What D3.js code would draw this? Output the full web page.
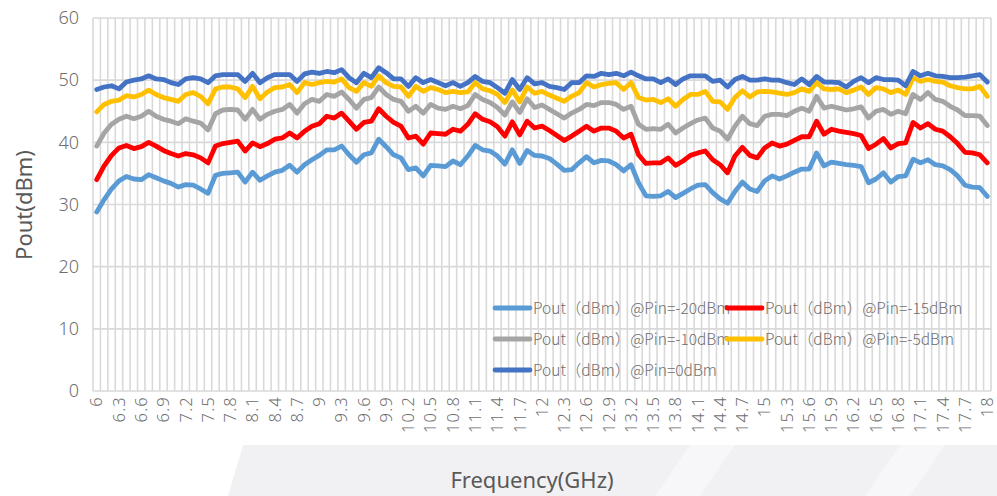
<!DOCTYPE html>
<html><head><meta charset="utf-8">
<script src="https://cdn.jsdelivr.net/npm/d3@7"></script>
<style>
html,body{margin:0;padding:0;background:#fff;}
svg{display:block;}
text{font-family:"Noto Sans CJK SC","Noto Sans",sans-serif;}
</style></head>
<body>
<svg id="chart" width="997" height="496"></svg>
<script>
const frequencies = [6,6.1,6.2,6.3,6.4,6.5,6.6,6.7,6.8,6.9,7,7.1,7.2,7.3,7.4,7.5,7.6,7.7,7.8,7.9,
8,8.1,8.2,8.3,8.4,8.5,8.6,8.7,8.8,8.9,9,9.1,9.2,9.3,9.4,9.5,9.6,9.7,9.8,9.9,
10,10.1,10.2,10.3,10.4,10.5,10.6,10.7,10.8,10.9,11,11.1,11.2,11.3,11.4,11.5,11.6,11.7,11.8,11.9,
12,12.1,12.2,12.3,12.4,12.5,12.6,12.7,12.8,12.9,13,13.1,13.2,13.3,13.4,13.5,13.6,13.7,13.8,13.9,
14,14.1,14.2,14.3,14.4,14.5,14.6,14.7,14.8,14.9,15,15.1,15.2,15.3,15.4,15.5,15.6,15.7,15.8,15.9,
16,16.1,16.2,16.3,16.4,16.5,16.6,16.7,16.8,16.9,17,17.1,17.2,17.3,17.4,17.5,17.6,17.7,17.8,17.9,18];

const tickLabels = ["6","6.3","6.6","6.9","7.2","7.5","7.8","8.1","8.4","8.7","9","9.3","9.6","9.9",
"10.2","10.5","10.8","11.1","11.4","11.7","12","12.3","12.6","12.9","13.2","13.5","13.8","14.1",
"14.4","14.7","15","15.3","15.6","15.9","16.2","16.5","16.8","17.1","17.4","17.7","18"];

const yTicks = [0,10,20,30,40,50,60];

const pinM20 = [28.8,30.8,32.5,33.8,34.5,34.1,34.0,34.8,34.3,33.8,
33.4,32.8,33.2,33.1,32.5,31.8,34.7,35.0,35.1,35.2,
33.6,35.2,33.9,34.6,35.2,35.5,36.3,35.2,36.4,37.2,
37.9,38.8,38.8,39.4,38.0,36.8,38.0,38.3,40.5,39.3,
38.0,37.5,35.6,35.9,34.6,36.3,36.2,36.1,37.0,36.4,
37.8,39.5,38.8,38.6,37.8,36.5,38.8,36.6,38.7,37.9,
37.8,37.4,36.5,35.5,35.6,36.7,37.7,36.7,37.1,37.0,
36.4,35.4,36.4,33.5,31.4,31.3,31.4,32.1,31.1,31.8,
32.5,33.1,33.2,31.9,30.9,30.2,32.1,33.6,32.5,32.1,
33.8,34.6,34.1,34.6,35.2,35.7,35.7,38.3,36.2,36.8,
36.6,36.4,36.3,36.1,33.5,34.1,35.1,33.6,34.5,34.6,
37.3,36.7,37.2,36.4,36.2,35.6,34.6,33.1,32.8,32.7,31.3];

const pinM15 = [34.0,36.2,37.9,39.1,39.5,39.0,39.3,40.0,39.4,38.7,
38.2,37.8,38.2,38.0,37.5,36.7,39.4,39.8,40.0,40.2,
38.6,39.9,39.3,39.8,40.5,40.7,41.5,40.7,41.8,42.6,
43.0,44.2,43.9,44.7,43.4,42.1,43.2,43.4,45.4,44.2,
43.2,42.6,40.7,41.0,39.7,41.5,41.4,41.3,42.1,41.8,
42.9,44.6,43.7,43.3,42.5,41.0,43.3,41.2,43.4,42.3,
42.6,41.9,41.1,40.3,41.0,41.8,42.6,41.8,42.3,42.3,
41.8,40.7,41.3,38.0,36.6,36.7,36.7,37.5,36.3,37.0,
37.9,38.3,38.6,37.2,36.4,35.1,37.8,39.2,37.9,37.5,
39.1,39.9,39.4,39.7,40.3,40.9,40.9,43.4,41.3,42.1,
41.8,41.6,41.4,41.1,39.0,39.7,40.6,39.1,39.8,39.9,
43.2,42.3,43.0,42.1,41.8,40.9,39.8,38.4,38.3,38.0,36.7];

const pinM10 = [39.4,41.5,42.9,43.7,44.2,43.8,44.2,45.0,44.2,43.7,
43.4,43.0,43.8,43.4,43.1,42.0,44.6,45.2,45.3,45.2,
43.7,45.3,43.7,44.5,45.0,45.3,46.1,44.7,46.2,46.9,
46.6,47.7,47.4,48.1,46.9,45.5,46.9,47.2,48.9,47.7,
46.9,46.6,45.0,45.8,44.7,46.1,45.5,45.3,45.8,45.4,
45.9,47.7,46.9,46.4,45.6,44.4,46.5,44.8,47.0,45.6,
46.0,45.3,44.6,43.9,44.7,45.3,46.1,45.9,46.4,46.4,
46.1,45.3,45.8,42.9,42.1,42.2,42.1,42.9,41.5,42.3,
43.0,43.6,43.9,42.3,41.8,40.5,42.6,44.2,43.0,42.7,
44.2,44.5,44.5,44.3,45.0,45.5,45.0,47.4,45.5,45.8,
45.5,45.2,45.4,45.7,43.9,45.0,45.3,44.5,45.0,44.6,
47.7,46.9,48.0,46.9,46.6,45.8,45.2,44.3,44.3,44.2,42.7];

const pinM5 = [44.9,46.1,46.6,46.8,47.5,47.3,47.7,48.4,47.7,47.2,
46.9,46.6,47.7,48.0,47.4,46.2,48.6,48.9,48.9,48.6,
47.2,49.0,47.0,48.1,48.8,48.9,49.3,48.0,49.6,49.3,
49.6,49.8,49.7,50.2,48.8,48.2,49.6,49.0,50.7,49.6,
49.0,48.9,47.4,49.0,48.2,48.8,48.5,48.0,48.2,48.0,
48.1,49.6,48.6,48.3,47.7,46.4,48.4,46.5,48.9,47.9,
48.2,47.6,47.1,46.6,47.4,48.0,49.6,48.9,49.3,49.5,
49.6,48.5,49.6,47.2,46.8,46.9,46.4,47.0,45.8,46.9,
47.7,47.7,48.2,46.6,46.5,45.3,47.2,48.3,47.3,48.1,
48.2,48.1,47.9,47.7,48.0,48.6,48.2,49.6,48.6,48.5,
48.6,48.0,48.4,48.9,47.7,48.8,48.6,48.0,48.4,47.7,
50.4,49.8,50.1,49.8,49.7,49.1,48.8,48.6,48.6,49.0,47.4];

const pin0 = [48.5,48.9,49.1,48.6,49.7,50.0,50.2,50.7,50.2,50.1,
49.6,49.3,50.2,50.4,50.2,49.6,50.7,50.9,50.9,50.9,
49.8,51.1,49.6,50.4,50.9,50.9,50.9,49.8,51.0,51.3,
51.1,51.4,51.2,51.7,50.4,49.6,51.1,50.4,52.0,51.2,
50.2,50.2,49.0,50.4,49.6,50.1,49.6,49.1,49.6,49.0,
49.6,50.6,49.8,49.6,48.8,47.9,50.1,48.5,50.4,49.4,
49.6,49.0,48.8,48.5,49.6,49.6,50.7,50.6,51.1,50.9,
51.1,50.7,51.3,50.7,50.2,50.2,49.6,50.2,49.3,50.2,
50.7,50.7,50.7,49.8,50.0,48.9,50.1,50.6,50.0,50.0,
50.2,50.0,50.0,49.6,49.3,50.2,49.3,50.6,49.7,49.7,
49.6,48.9,49.8,50.4,49.6,50.4,50.1,50.1,50.0,49.1,
51.4,50.7,51.1,50.7,50.6,50.4,50.4,50.5,50.7,50.9,49.7];

const seriesNames = ["Pout（dBm）@Pin=-20dBm","Pout（dBm）@Pin=-15dBm","Pout（dBm）@Pin=-10dBm","Pout（dBm）@Pin=-5dBm","Pout（dBm）@Pin=0dBm"];
const seriesColors = ["#5b9bd5","#ff0000","#a5a5a5","#ffc000","#4472c4"];
const seriesValues = [pinM20,pinM15,pinM10,pinM5,pin0];

const svg = d3.select("#chart");
const L = 93, R = 991, T = 18, B = 391;

// watermark band at bottom
const wm = svg.append("g");
wm.append("path").attr("d","M243,445 L997,445 L997,496 L228,496 Z").attr("fill","#f1f1f4");
wm.append("path").attr("d","M690,445 L735,445 L700,496 L655,496 Z").attr("fill","#f7f7f9");
wm.append("path").attr("d","M900,445 L945,445 L910,496 L865,496 Z").attr("fill","#f7f7f9");

const x = d3.scaleBand().domain(frequencies).range([L,R]).padding(0);
const y = d3.scaleLinear().domain([0,60]).range([B,T]);
const cx = d => x(d) + x.bandwidth()/2;

const grid = svg.append("g").attr("stroke","#d9d9d9").attr("stroke-width",1.6);
const bounds = frequencies.map(f => x(f)).concat([R]);
grid.selectAll("line.v").data(bounds).join("line").attr("class","v")
  .attr("x1",d=>d).attr("x2",d=>d).attr("y1",T).attr("y2",B);
grid.selectAll("line.h").data(yTicks).join("line").attr("class","h")
  .attr("x1",L).attr("x2",R).attr("y1",d=>y(d)).attr("y2",d=>y(d));

// y axis labels
const yAxis = d3.axisLeft(y).tickValues(yTicks).tickSize(0).tickPadding(0);
const yg = svg.append("g").attr("transform",`translate(${L-14},0)`).call(yAxis);
yg.select(".domain").remove();
yg.selectAll("text").attr("font-size",18).attr("fill","#6e6e6e")
  .style("font-family",'"Noto Sans","Noto Sans CJK SC",sans-serif').style("font-weight",300);

// x axis labels
const tickNums = tickLabels.map(Number);
const xAxis = d3.axisBottom(x).tickValues(frequencies.filter(f=>tickNums.includes(f)))
  .tickFormat(d=>tickLabels[tickNums.indexOf(d)]).tickSize(0).tickPadding(0);
const xg = svg.append("g").attr("transform",`translate(0,${B+5})`).call(xAxis);
xg.select(".domain").remove();
xg.selectAll("text").attr("font-size",16.5).attr("fill","#6e6e6e")
  .style("font-family",'"Noto Sans","Noto Sans CJK SC",sans-serif').style("font-weight",300)
  .attr("letter-spacing",1.2)
  .attr("transform","rotate(-90)").attr("text-anchor","end").attr("dy","0.35em").attr("y",0).attr("x",0);

// lines
const line = d3.line().x((d,i)=>cx(frequencies[i])).y(d=>y(d)).curve(d3.curveLinear);
svg.append("g").selectAll("path").data(seriesValues).join("path")
  .attr("d",d=>line(d)).attr("fill","none")
  .attr("stroke",(d,i)=>seriesColors[i]).attr("stroke-width",4.8)
  .attr("stroke-linejoin","round").attr("stroke-linecap","round");

// legend
const legendPos = [[495,308],[727,308],[495,339],[727,339],[495,370]];
const lg = svg.append("g");
seriesNames.forEach((n,i)=>{
  const [lx,ly] = legendPos[i];
  lg.append("line").attr("x1",lx).attr("x2",lx+35).attr("y1",ly).attr("y2",ly)
    .attr("stroke",seriesColors[i]).attr("stroke-width",4.8).attr("stroke-linecap","round");
  lg.append("text").attr("x",lx+38).attr("y",ly).attr("dy","0.36em")
    .attr("font-size",15.5).attr("fill","#6e6e6e").style("font-weight",300).text(n);
});

// axis titles
svg.append("text").attr("transform","translate(24,205) rotate(-90)").attr("text-anchor","middle")
  .attr("dy","0.35em").attr("font-size",22).attr("fill","#595959")
  .style("font-family",'"Noto Sans","Noto Sans CJK SC",sans-serif').text("Pout(dBm)");
svg.append("text").attr("x",532).attr("y",480).attr("text-anchor","middle")
  .attr("dy","0.35em").attr("font-size",22).attr("fill","#595959")
  .style("font-family",'"Noto Sans","Noto Sans CJK SC",sans-serif').text("Frequency(GHz)");
</script>
</body></html>
